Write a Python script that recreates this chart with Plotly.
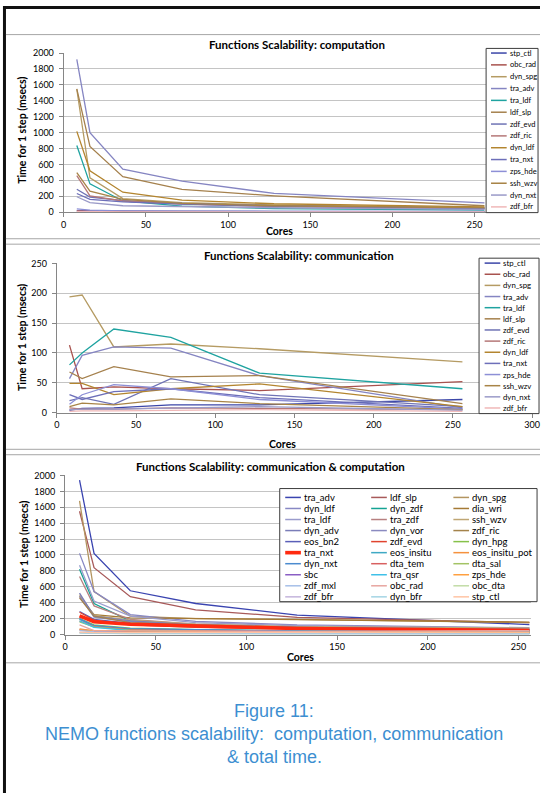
import plotly.graph_objects as go

W, H = 548, 798

# ---------------- data ----------------
cores = [8, 16, 36, 72, 128, 256]

# Chart 1: computation (msecs per step)
c1_stp_ctl = [20, 15, 12, 10, 8, 6]
c1_obc_rad = [15, 10, 8, 6, 5, 4]
c1_dyn_spg = [1545, 430, 170, 120, 90, 55]
c1_tra_adv = [1919, 1000, 540, 390, 235, 115]
c1_tra_ldf = [838, 355, 140, 75, 45, 25]
c1_ldf_slp = [1550, 825, 445, 285, 205, 80]
c1_zdf_evd = [287, 190, 145, 110, 80, 50]
c1_zdf_ric = [460, 205, 140, 100, 70, 45]
c1_dyn_ldf = [1015, 520, 250, 150, 105, 65]
c1_tra_nxt = [234, 160, 130, 100, 75, 45]
c1_zps_hde = [40, 25, 15, 12, 10, 8]
c1_ssh_wzv = [497, 263, 160, 110, 80, 55]
c1_dyn_nxt = [193, 120, 80, 70, 55, 35]
c1_zdf_bfr = [10, 6, 4, 3, 2, 2]

# Chart 2: communication (msecs per step)
c2_stp_ctl = [4, 7, 8, 13, 13, 22]
c2_obc_rad = [113, 40, 43, 40, 37, 52]
c2_dyn_spg = [194, 197, 110, 115, 107, 85]
c2_tra_adv = [57, 96, 110, 108, 62, 8]
c2_tra_ldf = [80, 100, 140, 126, 66, 40]
c2_ldf_slp = [68, 57, 77, 60, 62, 15]
c2_zdf_evd = [20, 25, 14, 57, 30, 10]
c2_zdf_ric = [8, 6, 6, 8, 7, 5]
c2_dyn_ldf = [49, 49, 30, 40, 48, 10]
c2_tra_nxt = [30, 22, 35, 40, 25, 7]
c2_zps_hde = [14, 30, 47, 40, 22, 6]
c2_ssh_wzv = [10, 16, 13, 23, 15, 5]
c2_dyn_nxt = [5, 6, 6, 8, 10, 4]
c2_zdf_bfr = [2, 3, 3, 4, 5, 2]

# Chart 3: communication & computation (msecs per step)
c3_tra_adv = [1940, 1020, 550, 390, 245, 125]
c3_ldf_slp = [1550, 840, 475, 310, 215, 150]
c3_dyn_spg = [1680, 540, 230, 200, 190, 150]
c3_dyn_ldf = [1020, 540, 250, 165, 120, 85]
c3_dyn_zdf = [820, 390, 170, 110, 80, 60]
c3_dia_wri = [480, 250, 210, 200, 190, 155]
c3_tra_ldf = [870, 420, 230, 150, 110, 80]
c3_tra_zdf = [730, 360, 190, 130, 95, 70]
c3_ssh_wzv = [500, 240, 180, 130, 100, 80]
c3_dyn_adv = [520, 230, 170, 120, 90, 65]
c3_dyn_vor = [480, 220, 160, 110, 85, 60]
c3_zdf_ric = [460, 230, 150, 120, 90, 60]
c3_eos_bn2 = [290, 190, 140, 110, 85, 55]
c3_zdf_evd = [280, 180, 120, 90, 70, 45]
c3_dyn_hpg = [200, 120, 80, 60, 45, 35]
c3_tra_nxt = [235, 160, 130, 105, 75, 50]
c3_eos_insitu = [190, 110, 70, 55, 40, 30]
c3_eos_insitu_pot = [70, 45, 35, 30, 25, 20]
c3_dyn_nxt = [200, 110, 75, 60, 45, 30]
c3_dta_tem = [170, 100, 60, 45, 35, 25]
c3_dta_sal = [160, 95, 55, 40, 30, 22]
c3_sbc = [60, 40, 30, 25, 20, 15]
c3_tra_qsr = [170, 90, 50, 35, 25, 18]
c3_zps_hde = [60, 50, 45, 40, 30, 25]
c3_zdf_mxl = [50, 35, 25, 20, 15, 10]
c3_obc_rad = [120, 50, 45, 42, 40, 50]
c3_obc_dta = [20, 15, 12, 10, 8, 7]
c3_zdf_bfr = [25, 18, 12, 10, 8, 6]
c3_dyn_bfr = [20, 14, 10, 8, 6, 5]
c3_stp_ctl = [30, 25, 25, 25, 25, 30]

x_ticks_1 = [0, 50, 100, 150, 200, 250]
x_ticks_2 = [0, 50, 100, 150, 200, 250, 300]

# ---------------- series tables ----------------
pal12 = {
    "stp_ctl": "#3b46a8", "obc_rad": "#a8524e", "dyn_spg": "#b59b63",
    "tra_adv": "#8585c2", "tra_ldf": "#1fa3a0", "ldf_slp": "#a5814d",
    "zdf_evd": "#6f73b5", "zdf_ric": "#b57878", "dyn_ldf": "#b3852f",
    "tra_nxt": "#6d6fb9", "zps_hde": "#8d8fd6", "ssh_wzv": "#a88447",
    "dyn_nxt": "#9a9ac8", "zdf_bfr": "#f0b8b8",
}
pal3 = {
    "tra_adv": "#3a44b0", "ldf_slp": "#a85a5a", "dyn_spg": "#b39560",
    "dyn_ldf": "#8888c4", "dyn_zdf": "#14a393", "dia_wri": "#a57a35",
    "tra_ldf": "#9a9ccc", "tra_zdf": "#b78080", "ssh_wzv": "#bfa674",
    "dyn_adv": "#7a7db8", "dyn_vor": "#8a8ac0", "zdf_ric": "#a4834b",
    "eos_bn2": "#5a5fb8", "zdf_evd": "#e0432e", "dyn_hpg": "#86c14a",
    "tra_nxt": "#ff2a10", "eos_insitu": "#3fa9c4", "eos_insitu_pot": "#f5923e",
    "dyn_nxt": "#4b8bcf", "dta_tem": "#d86060", "dta_sal": "#a3c364",
    "sbc": "#8a5ec4", "tra_qsr": "#3fc0e8", "zps_hde": "#ffa040",
    "zdf_mxl": "#a6bfe8", "obc_rad": "#e7a5a0", "obc_dta": "#c2dca6",
    "zdf_bfr": "#c4b4dc", "dyn_bfr": "#a4d4e4", "stp_ctl": "#ffc4a4",
}

names12 = ["stp_ctl", "obc_rad", "dyn_spg", "tra_adv", "tra_ldf", "ldf_slp",
           "zdf_evd", "zdf_ric", "dyn_ldf", "tra_nxt", "zps_hde", "ssh_wzv",
           "dyn_nxt", "zdf_bfr"]
names3 = ["tra_adv", "ldf_slp", "dyn_spg", "dyn_ldf", "dyn_zdf", "dia_wri",
          "tra_ldf", "tra_zdf", "ssh_wzv", "dyn_adv", "dyn_vor", "zdf_ric",
          "eos_bn2", "zdf_evd", "dyn_hpg", "tra_nxt", "eos_insitu",
          "eos_insitu_pot", "dyn_nxt", "dta_tem", "dta_sal", "sbc", "tra_qsr",
          "zps_hde", "zdf_mxl", "obc_rad", "obc_dta", "zdf_bfr", "dyn_bfr",
          "stp_ctl"]

g = globals()
series1 = [(n, g["c1_" + n]) for n in names12]
series2 = [(n, g["c2_" + n]) for n in names12]
series3 = [(n, g["c3_" + n]) for n in names3]

# ---------------- helpers ----------------
def fx(px):
    return px / W

def fy(py):
    return 1 - py / H

FONT = "Lato"
TICKFS = 9
fig = go.Figure()
shapes = []
annotations = []

charts = [
    dict(series=series1, pal=pal12, ax="", xl=61.9, xr=493, yt=47.7, yb=209,
         xrange=[0, 257], yrange=[0, 2000], dtick=200, xt=x_ticks_1,
         title="Functions Scalability: computation", title_xy=(300, 39),
         ytitle_xy=(20, 126), xtitle_xy=(282, 228),
         leg=dict(box=(493, 43, 546, 209.5), y0=47.7, dy=12.0, cols=[498],
                  ncol=1, sw=16, fs=7.5)),
    dict(series=series2, pal=pal12, ax="2", xl=54.9, xr=540, yt=261, yb=412.3,
         xrange=[0, 300], yrange=[0, 250], dtick=50, xt=x_ticks_2,
         title="Functions Scalability: communication", title_xy=(302, 253),
         ytitle_xy=(20, 336), xtitle_xy=(285, 444),
         leg=dict(box=(485.8, 255.7, 547, 413.3), y0=260.7, dy=11.3, cols=[491.5],
                  ncol=1, sw=16, fs=7.8)),
    dict(series=series3, pal=pal3, ax="3", xl=63.3, xr=539, yt=476, yb=637.3,
         xrange=[0, 257], yrange=[0, 2000], dtick=200, xt=x_ticks_1,
         title="Functions Scalability: communication &amp; computation",
         title_xy=(273, 467), ytitle_xy=(22, 556), xtitle_xy=(304, 660),
         leg=dict(box=(282.4, 489.3, 545, 604), y0=498.3, dy=11.2,
                  cols=[288, 375.7, 459.6], ncol=3, sw=16, fs=9.5)),
]

layout_axes = {}
for c in charts:
    ax = c["ax"]
    xa = "x" + ax
    ya = "y" + ax
    for name, vals in c["series"]:
        thick = (c["ax"] == "3" and name == "tra_nxt")
        fig.add_trace(go.Scatter(
            x=cores, y=vals, mode="lines", name=name, xaxis=xa, yaxis=ya,
            line=dict(color=c["pal"][name], width=3.6 if thick else 1.3),
            showlegend=False))
    layout_axes["xaxis" + ax] = dict(
        domain=[fx(c["xl"]), fx(c["xr"])], range=c["xrange"], anchor=ya,
        tickvals=c["xt"], showgrid=False, showline=True, linecolor="#868686",
        linewidth=1, ticks="outside", ticklen=4, tickcolor="#868686",
        tickfont=dict(family=FONT, size=TICKFS, color="#000"), zeroline=False,
        fixedrange=True)
    layout_axes["yaxis" + ax] = dict(
        domain=[fy(c["yb"]), fy(c["yt"])], range=c["yrange"], anchor=xa,
        dtick=c["dtick"], tick0=0, showgrid=True, gridcolor="#c4c4c4",
        gridwidth=1, showline=True, linecolor="#868686", linewidth=1,
        ticks="outside", ticklen=4, tickcolor="#868686", ticklabelstandoff=3,
        tickfont=dict(family=FONT, size=TICKFS, color="#000"), zeroline=False,
        fixedrange=True)
    # titles
    annotations.append(dict(text="<b>%s</b>" % c["title"], x=fx(c["title_xy"][0]),
                            y=fy(c["title_xy"][1]), xref="paper", yref="paper",
                            showarrow=False, xanchor="center", yanchor="middle",
                            font=dict(family=FONT, size=11.5, color="#000")))
    annotations.append(dict(text="<b>Time for 1 step (msecs)</b>",
                            x=fx(c["ytitle_xy"][0]), y=fy(c["ytitle_xy"][1]),
                            xref="paper", yref="paper", showarrow=False,
                            textangle=-90, xanchor="center", yanchor="middle",
                            font=dict(family=FONT, size=10.5, color="#000")))
    annotations.append(dict(text="<b>Cores</b>", x=fx(c["xtitle_xy"][0]),
                            y=fy(c["xtitle_xy"][1]), xref="paper", yref="paper",
                            showarrow=False, xanchor="center", yanchor="middle",
                            font=dict(family=FONT, size=10.5, color="#000")))
    # legend
    lg = c["leg"]
    bx0, by0, bx1, by1 = lg["box"]
    shapes.append(dict(type="rect", xref="paper", yref="paper", layer="above",
                       x0=fx(bx0), x1=fx(bx1), y0=fy(by1), y1=fy(by0),
                       fillcolor="white", line=dict(color="#3c3c3c", width=1)))
    for i, (name, _) in enumerate(c["series"]):
        r, col = i // lg["ncol"], i % lg["ncol"]
        yy = lg["y0"] + r * lg["dy"]
        sx = lg["cols"][col]
        thick = (c["ax"] == "3" and name == "tra_nxt")
        shapes.append(dict(type="line", xref="paper", yref="paper", layer="above",
                           x0=fx(sx), x1=fx(sx + lg["sw"]), y0=fy(yy), y1=fy(yy),
                           line=dict(color=c["pal"][name], width=3.6 if thick else 1.5)))
        annotations.append(dict(text=name, x=fx(sx + lg["sw"] + 1), y=fy(yy),
                                xref="paper", yref="paper", showarrow=False,
                                xanchor="left", yanchor="middle",
                                font=dict(family=FONT, size=lg["fs"], color="#000")))

# page frame lines
shapes.append(dict(type="line", xref="paper", yref="paper", x0=0, x1=1,
                   y0=fy(1.5), y1=fy(1.5), line=dict(color="#111", width=3)))
shapes.append(dict(type="line", xref="paper", yref="paper", x0=fx(1.5), x1=fx(1.5),
                   y0=0, y1=1, line=dict(color="#111", width=3)))
for yy in [29, 236, 241.5, 449.5, 455, 666]:
    shapes.append(dict(type="line", xref="paper", yref="paper", x0=fx(3), x1=1,
                       y0=fy(yy), y1=fy(yy), line=dict(color="#a6a6a6", width=1)))

# caption
cap_col = "#3d8fd1"
for txt, yy in [("Figure 11:", 715),
                ("NEMO functions scalability:  computation, communication", 738),
                ("&amp; total time.", 762)]:
    annotations.append(dict(text=txt, x=fx(277), y=fy(yy), xref="paper", yref="paper",
                            showarrow=False, xanchor="center", yanchor="middle",
                            font=dict(family="Liberation Sans", size=18, color=cap_col)))

fig.update_layout(width=W, height=H, margin=dict(l=0, r=0, t=0, b=0),
                  paper_bgcolor="white", plot_bgcolor="white", showlegend=False,
                  shapes=shapes, annotations=annotations, **layout_axes)

fig.write_html("out.html", config={"displayModeBar": False})
